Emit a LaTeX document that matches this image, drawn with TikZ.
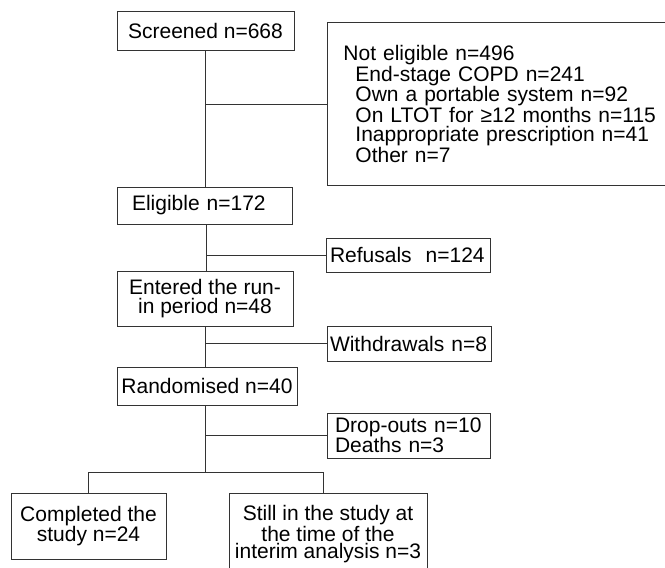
\documentclass[tikz,border=0pt]{standalone}
\usepackage{fontspec}
\setmainfont{Liberation Sans}
\usepackage{tikz}
\usetikzlibrary{calc}

\begin{document}
\begin{tikzpicture}[x=1pt,y=-1pt,
            box/.style={draw=black!80, line width=0.9pt, inner sep=0pt,
                font=\fontsize{21}{19}\selectfont},
            lbox/.style={box, align=left, inner xsep=#1},
            lbox/.default=6pt,
            link/.style={draw=black!80, line width=0.9pt}]

        \useasboundingbox (0,0) rectangle (665,568);
        \clip (0,0) rectangle (665,568);

        \node [box, minimum width=177pt, minimum height=39pt] at (205.5,30.5) (screen) {Screened n=668};
        \node [lbox=16pt, anchor=north west, text width=330pt, minimum height=163pt,
            font=\fontsize{21}{19.4}\selectfont] at (327,22) (notel)
            {Not eligible n=496\\
             \hspace*{12pt}End-stage COPD n=241\\
             \hspace*{12pt}Own a portable system n=92\\
             \hspace*{12pt}On LTOT for ≥12 months n=115\\
             \hspace*{12pt}Inappropriate prescription n=41\\
             \hspace*{12pt}Other n=7};
        \node [lbox=15pt, text width=145pt, minimum height=37pt] at (204.5,205.5) (elig) {Eligible n=172};
        \node [lbox=4pt, text width=156pt, minimum height=34pt] at (408,255) (refus) {Refusals\ \ n=124};
        \node [box, align=center, minimum width=176pt, minimum height=55pt] at (205,298.5) (runin)
            {Entered the run-\\in period n=48};
        \node [lbox=3pt, text width=158pt, minimum height=35pt] at (409,343.5) (withd) {Withdrawals n=8};
        \node [box, minimum width=180pt, minimum height=38pt] at (207,386) (random) {Randomised n=40};
        \node [lbox=8pt, text width=147pt, minimum height=45pt, font=\fontsize{21}{20}\selectfont] at (408.5,435.5) (drop)
            {Drop-outs n=10\\Deaths n=3};
        \node [box, align=center, minimum width=155pt, minimum height=66pt, font=\fontsize{21}{17.5}\selectfont] at (88.5,526) (compl)
            {Completed the\\study n=24};
        \node [box, align=center, anchor=north, minimum width=198pt, minimum height=82pt, font=\fontsize{21}{17.5}\selectfont] at (328,493) (still)
            {Still in the study at\\the time of the\\interim analysis n=3};

        \coordinate (split) at ($(random.south)+(-2,67)$);

        \draw [link] (screen.south) -- (screen.south |- elig.north);
        \draw [link] (screen.south |- notel.west) -- (notel.west);
        \draw [link] ([xshift=1.5pt]elig.south) -- ([xshift=1.5pt]elig.south |- runin.north);
        \draw [link] ([xshift=1.5pt]elig.south |- refus.west) -- (refus.west);
        \draw [link] (runin.south) -- (runin.south |- random.north);
        \draw [link] (runin.south |- withd.west) -- (withd.west);
        \draw [link] (split |- random.south) -- (split);
        \draw [link] (split |- drop.west) -- (drop.west);
        \draw [link] (split) -| (compl.north);
        \draw [link] (split) -| ([xshift=-5pt]still.north);

    \end{tikzpicture}
\end{document}
